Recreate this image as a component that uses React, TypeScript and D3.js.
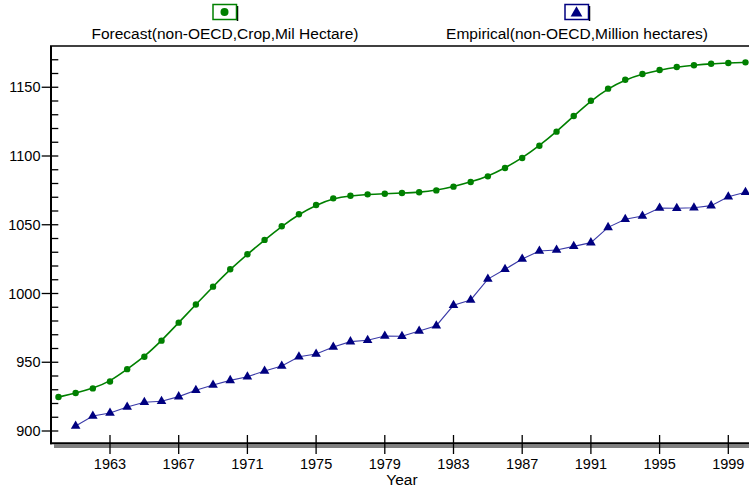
import React, { useEffect, useRef } from 'react';
import * as d3 from 'd3';

// values
const forecastYears = d3.range(1960, 2001);
const forecastValues = [
  924.7, 927.6, 931, 936, 945, 954, 965.7, 978.8, 992, 1005,
  1017.6, 1028.5, 1039, 1048.9, 1057.6, 1064.4, 1069.2, 1071.1, 1072.1, 1072.6,
  1073.1, 1073.6, 1075, 1077.7, 1081.1, 1085.2, 1091.3, 1098.5, 1107.5, 1117.7,
  1129.1, 1140.2, 1149, 1155.5, 1159.6, 1162.5, 1164.7, 1166, 1167.1, 1167.6,
  1168.1,
];
const empiricalYears = d3.range(1961, 2001);
const empiricalValues = [
  903.6, 910.9, 913.1, 917.5, 920.9, 921.6, 925, 929.6, 933.5, 936.8,
  939.5, 943.6, 947.3, 954, 956, 961.1, 965, 966, 969.1, 968.9,
  972.7, 976.6, 991.4, 995.3, 1010.5, 1017.6, 1025.1, 1030.9, 1031.6, 1034.3,
  1037, 1048.1, 1054, 1056.4, 1062.2, 1062, 1062.4, 1063.9, 1070.4, 1073.6,
];
const xTickYears = d3.range(1963, 2000, 4);
const yMajorTicks = d3.range(900, 1151, 50);
const yMinorTicks = d3.range(900, 1171, 10).filter((v) => v % 50 !== 0);
const seriesNames = ['Forecast(non-OECD,Crop,Mil Hectare)', 'Empirical(non-OECD,Million hectares)'];

const W = 749;
const H = 492;
const FONT = 'Liberation Sans, Arial, sans-serif';

export default function App() {
  const svgRef = useRef<SVGSVGElement>(null);

  useEffect(() => {
    if (!svgRef.current) return;
    const svg = d3.select(svgRef.current);
    svg.selectAll('*').remove();

    const left = 51;
    const top = 46;
    const bottom = 443.3;
    const right = 760;

    const x = d3.scaleLinear().domain([1963, 1999]).range([110, 728.3]);
    const y = d3.scaleLinear().domain([900, 1150]).range([431, 87.25]);

    const green = '#008000';
    const navy = '#000080';

    // frame
    svg.append('rect')
      .attr('x', left + 3).attr('y', bottom + 1).attr('width', right - left).attr('height', 3.7)
      .attr('fill', '#808080');
    svg.append('line')
      .attr('x1', left - 1).attr('x2', right).attr('y1', top).attr('y2', top)
      .attr('stroke', '#000').attr('stroke-width', 1.5);
    svg.append('line')
      .attr('x1', left).attr('x2', left).attr('y1', top).attr('y2', bottom + 1)
      .attr('stroke', '#000').attr('stroke-width', 2);
    svg.append('line')
      .attr('x1', left - 1).attr('x2', right).attr('y1', bottom).attr('y2', bottom)
      .attr('stroke', '#000').attr('stroke-width', 2);

    // y ticks
    svg.selectAll('.ymin').data(yMinorTicks).enter().append('line')
      .attr('x1', left).attr('x2', left + 7.3)
      .attr('y1', (d) => y(d)).attr('y2', (d) => y(d))
      .attr('stroke', '#000').attr('stroke-width', 1.3);
    svg.selectAll('.ymaj').data(yMajorTicks).enter().append('line')
      .attr('x1', left - 9.3).attr('x2', left + 7.3)
      .attr('y1', (d) => y(d)).attr('y2', (d) => y(d))
      .attr('stroke', '#000').attr('stroke-width', 1.3);
    svg.selectAll('.ylab').data(yMajorTicks).enter().append('text')
      .attr('x', left - 10.5).attr('y', (d) => y(d)).attr('dy', '0.36em')
      .attr('text-anchor', 'end').attr('font-family', FONT).attr('font-size', 14.5)
      .attr('fill', '#000').text((d) => d);

    // x ticks
    svg.selectAll('.xt').data(xTickYears).enter().append('line')
      .attr('x1', (d) => x(d)).attr('x2', (d) => x(d))
      .attr('y1', 435).attr('y2', 454)
      .attr('stroke', '#000').attr('stroke-width', 1.3);
    svg.selectAll('.xlab').data(xTickYears).enter().append('text')
      .attr('x', (d) => x(d)).attr('y', 469)
      .attr('text-anchor', 'middle').attr('font-family', FONT).attr('font-size', 14.5)
      .attr('fill', '#000').text((d) => d);
    svg.append('text')
      .attr('x', 402).attr('y', 485)
      .attr('text-anchor', 'middle').attr('font-family', FONT).attr('font-size', 15.5)
      .attr('fill', '#000').text('Year');

    // forecast
    const fPts: [number, number][] = forecastYears.map((yr, i) => [x(yr), y(forecastValues[i])]);
    svg.append('path')
      .attr('d', d3.line().curve(d3.curveBasis)(fPts) || '')
      .attr('fill', 'none').attr('stroke', green).attr('stroke-width', 1.6);
    svg.selectAll('.fdot').data(fPts).enter().append('circle')
      .attr('cx', (d) => d[0]).attr('cy', (d) => d[1]).attr('r', 3.2)
      .attr('fill', green);

    // empirical
    const ePts: [number, number][] = empiricalYears.map((yr, i) => [x(yr), y(empiricalValues[i])]);
    svg.append('path')
      .attr('d', d3.line()(ePts) || '')
      .attr('fill', 'none').attr('stroke', '#3a3aa8').attr('stroke-width', 1.1);
    const tri = d3.symbol().type(d3.symbolTriangle).size(40);
    svg.selectAll('.etri').data(ePts).enter().append('path')
      .attr('d', tri() || '')
      .attr('transform', (d) => `translate(${d[0]},${d[1]})`)
      .attr('fill', navy);

    // legend
    const legend = [
      { name: seriesNames[0], cx: 225, color: green, mark: 'circle' },
      { name: seriesNames[1], cx: 577, color: navy, mark: 'tri' },
    ];
    legend.forEach((l) => {
      const g = svg.append('g');
      g.append('line')
        .attr('x1', l.cx + 12.5).attr('x2', l.cx + 12.5).attr('y1', 6).attr('y2', 21)
        .attr('stroke', '#000').attr('stroke-width', 1.5);
      g.append('rect')
        .attr('x', l.cx - 12).attr('y', 4.5).attr('width', 23.5).attr('height', 15)
        .attr('fill', '#fff').attr('stroke', l.color).attr('stroke-width', 1.5);
      if (l.mark === 'circle') {
        g.append('circle').attr('cx', l.cx - 0.5).attr('cy', 12).attr('r', 4).attr('fill', l.color);
      } else {
        g.append('path').attr('d', d3.symbol().type(d3.symbolTriangle).size(60)() || '')
          .attr('transform', `translate(${l.cx - 0.5},13)`).attr('fill', l.color);
      }
      g.append('text')
        .attr('x', l.cx).attr('y', 39)
        .attr('text-anchor', 'middle').attr('font-family', FONT).attr('font-size', 15.5)
        .attr('fill', '#000').text(l.name);
    });
  }, []);

  return (
    <svg ref={svgRef} width={W} height={H} style={{ position: 'absolute', left: 0, top: 0, background: '#fff' }} />
  );
}
